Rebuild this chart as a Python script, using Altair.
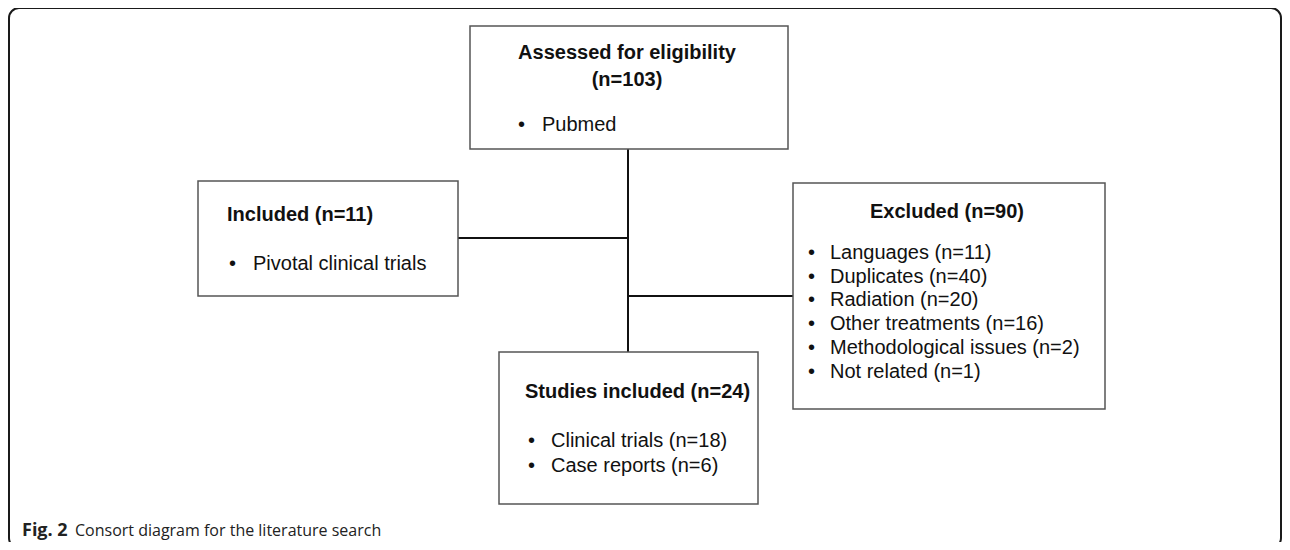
import altair as alt
import pandas as pd

# ---------------- content ----------------
titles = ["Assessed for eligibility", "(n=103)", "Included (n=11)",
          "Excluded (n=90)", "Studies included (n=24)"]
items = ["Pubmed", "Pivotal clinical trials",
         "Languages (n=11)", "Duplicates (n=40)", "Radiation (n=20)",
         "Other treatments (n=16)", "Methodological issues (n=2)", "Not related (n=1)",
         "Clinical trials (n=18)", "Case reports (n=6)"]
caption_bold = "Fig. 2"
caption_text = "Consort diagram for the literature search"

# ---------------- layout (page pixel coordinates) ----------------
box_x0 = [470, 198, 793, 499]
box_x1 = [788, 458, 1105, 758]
box_y0 = [26, 181, 183, 352]
box_y1 = [149, 296, 409, 504]

conn_x0 = [628, 458, 628]
conn_x1 = [628, 628, 793]
conn_y0 = [149, 238, 296]
conn_y1 = [352, 238, 296]

title_x = [627, 627, 227, 947, 525]
title_y = [53, 80, 215, 212, 392]
title_align = ["center", "center", "left", "center", "left"]

bullet_x = [518, 229, 808, 808, 808, 808, 808, 808, 528, 528]
item_x = [542, 253, 830, 830, 830, 830, 830, 830, 551, 551]
item_y = [125, 264, 253, 277, 300, 324, 348, 372, 441, 466]

caption_x = [22, 75]
caption_y = [531, 531]

frame = pd.DataFrame({"x": [9], "x2": [1281], "y": [8], "y2": [548]})
boxes = pd.DataFrame({"x": box_x0, "x2": box_x1, "y": box_y0, "y2": box_y1})
conns = pd.DataFrame({"x": conn_x0, "x2": conn_x1, "y": conn_y0, "y2": conn_y1})
tdf = pd.DataFrame({"t": titles, "x": title_x, "y": title_y, "a": title_align})
idf = pd.DataFrame({"t": items, "x": item_x, "bx": bullet_x, "y": item_y, "b": ["•"] * len(items)})
cdf = pd.DataFrame({"t": [caption_bold, caption_text], "x": caption_x, "y": caption_y,
                    "w": ["bold", "normal"]})

W, H = 1274, 534
xs = alt.Scale(domain=[8, 8 + W], nice=False, zero=False)
ys = alt.Scale(domain=[8, 8 + H], nice=False, zero=False, reverse=True)

def X(f="x"):
    return alt.X(f"{f}:Q", scale=xs, axis=None)

def Y(f="y"):
    return alt.Y(f"{f}:Q", scale=ys, axis=None)

FONT = "Liberation Sans"

frame_l = alt.Chart(frame).mark_rect(fill=None, stroke="#1a1a1a", strokeWidth=2,
                                     cornerRadius=10).encode(
    x=X(), x2="x2:Q", y=Y(), y2="y2:Q")

box_l = alt.Chart(boxes).mark_rect(fill="white", stroke="#555555", strokeWidth=1.5).encode(
    x=X(), x2="x2:Q", y=Y(), y2="y2:Q")

conn_l = alt.Chart(conns).mark_rule(color="#111111", strokeWidth=2).encode(
    x=X(), x2="x2:Q", y=Y(), y2="y2:Q")

title_c = alt.Chart(tdf[tdf.a == "center"]).mark_text(
    align="center", baseline="middle", font=FONT, fontSize=20, fontWeight="bold",
    color="#111111").encode(x=X(), y=Y(), text="t:N")
title_left = alt.Chart(tdf[tdf.a == "left"]).mark_text(
    align="left", baseline="middle", font=FONT, fontSize=20, fontWeight="bold",
    color="#111111").encode(x=X(), y=Y(), text="t:N")

item_l = alt.Chart(idf).mark_text(
    align="left", baseline="middle", font=FONT, fontSize=20, color="#111111").encode(
    x=X(), y=Y(), text="t:N")
bullet_l = alt.Chart(idf).mark_text(
    align="left", baseline="middle", font=FONT, fontSize=20, color="#111111").encode(
    x=X("bx"), y=Y(), text="b:N")

cap_b = alt.Chart(cdf[cdf.w == "bold"]).mark_text(
    align="left", baseline="middle", font="Open Sans", fontSize=18, fontWeight="bold",
    color="#222222").encode(x=X(), y=Y(), text="t:N")
cap_n = alt.Chart(cdf[cdf.w == "normal"]).mark_text(
    align="left", baseline="middle", font="Open Sans", fontSize=16,
    color="#222222").encode(x=X(), y=Y(), text="t:N")

chart = alt.layer(frame_l, conn_l, box_l, title_c, title_left, item_l, bullet_l,
                  cap_b, cap_n).properties(
    width=W, height=H, padding=0, autosize="none"
).configure_view(stroke=None)

chart.save("out.html", embed_options={"renderer": "svg", "actions": False})
